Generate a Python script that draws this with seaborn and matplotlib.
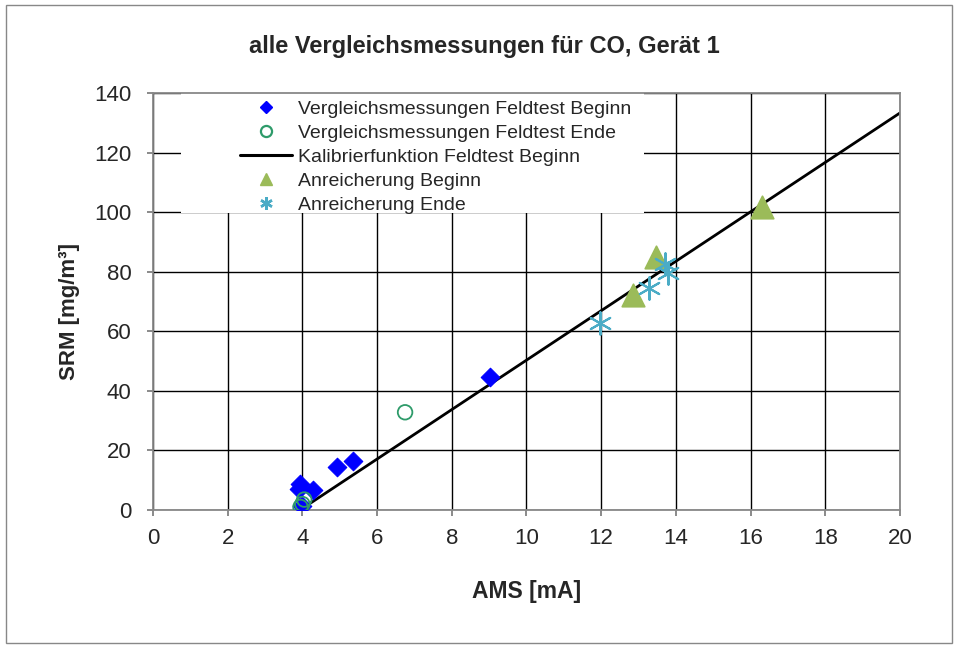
import matplotlib
matplotlib.use("Agg")
import matplotlib.pyplot as plt
import seaborn as sns
import numpy as np
from matplotlib.lines import Line2D
from matplotlib.patches import Rectangle

# Data
beginn_x = [3.95, 3.9, 4.0, 4.29, 4.92, 5.36, 9.02]
beginn_y = [8.8, 7.0, 1.5, 6.7, 14.3, 16.3, 44.8]
ende_x = [3.95, 4.0, 4.05, 6.75]
ende_y = [1.0, 2.0, 3.5, 32.8]
kal_x = [4.0, 20.0]
kal_y = [0.5, 133.3]
anr_b_x = [12.86, 13.48, 16.3]
anr_b_y = [72.2, 84.8, 101.8]
anr_e_x = [11.97, 13.27, 13.71, 13.78]
anr_e_y = [62.7, 74.6, 82.6, 79.6]

labels = ['Vergleichsmessungen Feldtest Beginn', 'Vergleichsmessungen Feldtest Ende',
          'Kalibrierfunktion Feldtest Beginn', 'Anreicherung Beginn', 'Anreicherung Ende']

sns.set_style("white")
plt.rcParams['font.family'] = ['Liberation Sans', 'DejaVu Sans']

fig = plt.figure(figsize=(9.56, 6.48), dpi=100)
ax = fig.add_axes([0.160, 0.213, 0.7814, 0.6435])

ax.set_xlim(0, 20)
ax.set_ylim(0, 140)
ax.set_xticks(np.arange(0, 21, 2))
ax.set_yticks(np.arange(0, 141, 20))
ax.grid(True, color='black', linewidth=1.0)
ax.set_axisbelow(True)
for s in ax.spines.values():
    s.set_color('#888888')
    s.set_linewidth(1.3)

# white legend background covering grid
ax.add_patch(Rectangle((0.0375, 0.712), 0.62, 0.288, transform=ax.transAxes,
                       facecolor='white', edgecolor='none', zorder=1))

sns.lineplot(x=kal_x, y=kal_y, ax=ax, color='black', linewidth=2, zorder=2, legend=False)
sns.scatterplot(x=beginn_x, y=beginn_y, ax=ax, marker='D', color='#0000FF', s=90,
                edgecolor='#0000FF', zorder=3, legend=False)
sns.scatterplot(x=ende_x, y=ende_y, ax=ax, marker='o', facecolor='none', s=110,
                edgecolor='#2E9B6A', linewidth=1.3, zorder=4, legend=False)
sns.scatterplot(x=anr_b_x, y=anr_b_y, ax=ax, marker='^', color='#9BBB59', s=260,
                edgecolor='#9BBB59', zorder=3, legend=False)
sns.scatterplot(x=anr_e_x, y=anr_e_y, ax=ax, marker=(6, 2, 0), color='#4BACC6', s=260,
                linewidth=1.5, zorder=4, legend=False)

handles = [
    Line2D([], [], marker='D', color='#0000FF', linestyle='none', markersize=6.5),
    Line2D([], [], marker='o', markerfacecolor='none', markeredgecolor='#2E9B6A',
           linestyle='none', markersize=8, markeredgewidth=1.6),
    Line2D([], [], color='black', linewidth=2.2),
    Line2D([], [], marker='^', color='#9BBB59', linestyle='none', markersize=8.5),
    Line2D([], [], marker=(6, 2, 0), color='#4BACC6', linestyle='none',
           markersize=9, markeredgewidth=1.8),
]
leg = ax.legend(handles, labels, loc='upper left', bbox_to_anchor=(0.251, 0.845),
                bbox_transform=fig.transFigure, frameon=False,
                fontsize=14, handlelength=2.7, labelspacing=0.33,
                borderpad=0, handletextpad=0.3, borderaxespad=0)
leg.set_zorder(10)

ax.tick_params(axis='both', labelsize=16, direction='out', length=4.5, width=1.2,
               color='#777777', bottom=True, left=True)
ax.tick_params(axis='y', pad=11)
ax.tick_params(axis='x', pad=8.5)
ax.set_xlabel('AMS [mA]', fontsize=16.5, fontweight='bold', labelpad=22)
ax.set_ylabel('SRM [mg/m³]', fontsize=16, fontweight='bold')
ax.yaxis.set_label_coords(-0.097, 0.475)
fig.text(0.507, 0.929, 'alle Vergleichsmessungen für CO, Gerät 1', ha='center', va='center',
         fontsize=17, fontweight='bold')

fig.patches.append(Rectangle((0.006, 0.008), 0.99, 0.985, transform=fig.transFigure,
                             fill=False, edgecolor='#888888', linewidth=1))

fig.savefig('out.png', dpi=100, facecolor='white')
